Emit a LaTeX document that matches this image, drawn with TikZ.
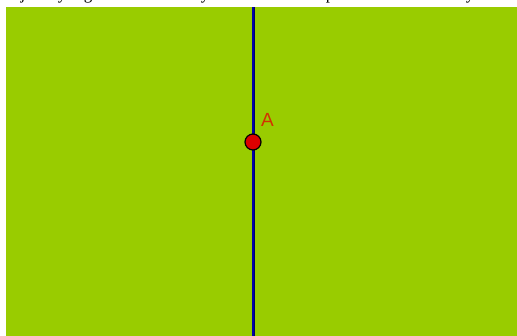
\documentclass[tikz,border=0pt]{standalone}
\usepackage{fontspec}
\setmainfont{Liberation Serif}
\newfontfamily\labelfont{Liberation Sans}
\definecolor{bggreen}{RGB}{153,204,0}
\definecolor{lineblue}{RGB}{0,0,170}
\definecolor{ptred}{RGB}{220,0,0}
\definecolor{lblred}{RGB}{210,50,0}
\tikzset{
  desc/.style={anchor=base, inner sep=0pt, font=\fontsize{17}{20}\selectfont, text=black},
  vline/.style={draw=lineblue, line width=2pt},
  vlineedge/.style={draw=black!60!blue, line width=3pt},
  ptstyle/.style={circle, fill=ptred, draw=black, line width=1.2pt, minimum size=16pt, inner sep=0pt},
  lbl/.style={anchor=south west, inner sep=0pt, text=lblred, font=\labelfont\fontsize{19}{22}\selectfont}
}
\begin{document}
\begin{tikzpicture}[x=1pt,y=-1pt]
\useasboundingbox (0,0) rectangle (517,336);
\fill[bggreen] (6,7.5) rectangle (517,336);
% descenders of the cut-off text line above
\foreach \ch/\xx in {j/23,y/62,g/88,y/205,p/330,y/470}
  \node[desc] at (\xx,-0.5) {\ch};
\coordinate (top) at (253,7.5);
\coordinate (bot) at (253,336);
\draw[vlineedge] (top) -- (bot);
\draw[vline] (top) -- (bot);
\node[ptstyle] (A) at (253,142) {};
\node[lbl] (Alab) at (261,126.5) {A};
\end{tikzpicture}
\end{document}
